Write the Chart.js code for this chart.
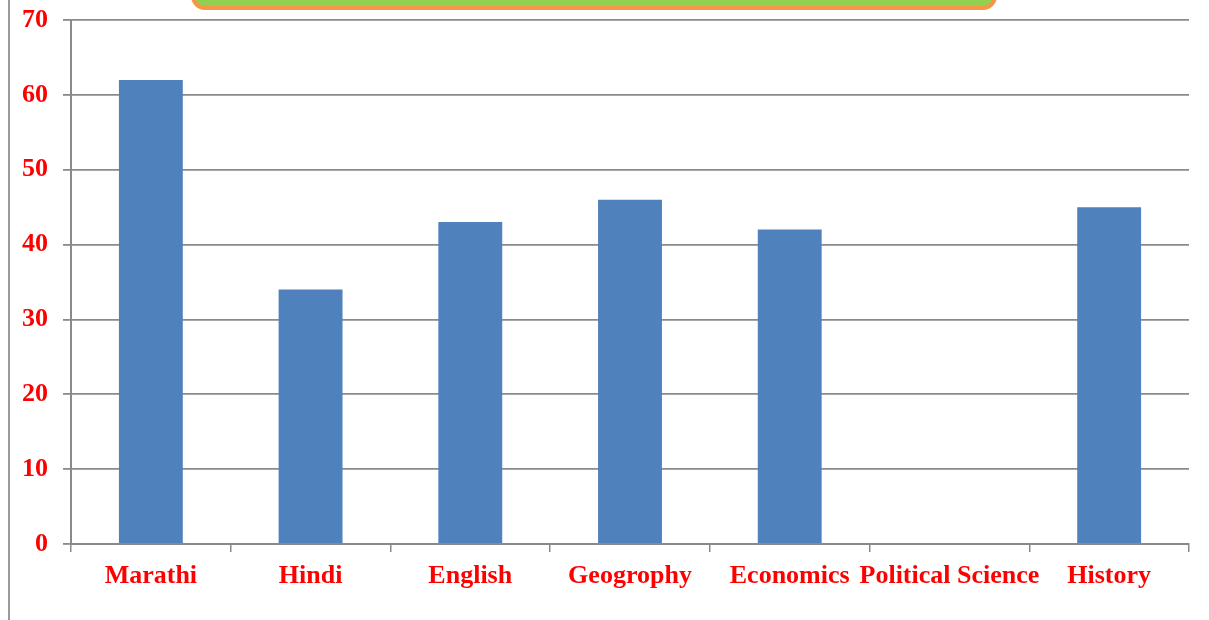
<!DOCTYPE html>
<html>
<head>
<meta charset="utf-8">
<script src="https://cdn.jsdelivr.net/npm/chart.js@4"></script>
<style>
  html, body { margin: 0; padding: 0; background: #fff; }
  #wrap { position: relative; width: 1209px; height: 620px; overflow: hidden; }
  #leftLine { position: absolute; left: 8px; top: 0; width: 2px; height: 620px; background: #9a9a9a; }
  #titleBox {
    position: absolute; left: 191px; top: -38px; width: 798px; height: 40px;
    background: #92D050; border: 4px solid #F79646; border-radius: 14px;
  }
  canvas { position: absolute; left: 0; top: 0; }
</style>
</head>
<body>
<div id="wrap">
  <div id="leftLine"></div>
  <div id="titleBox"></div>
  <canvas id="marksChart" width="1209" height="620"></canvas>
</div>
<script>
// subjects and marks
const subjects = ["Marathi", "Hindi", "English", "Geogrophy", "Economics", "Political Science", "History"];
const marks = [62, 34, 43, 46, 42, 0, 45];
const yMin = 0;
const yMax = 70;
const yStep = 10;

const labelFont = { family: "'Liberation Serif', 'Times New Roman', serif", size: 26, weight: "bold" };
const gridColor = "#8a8a8a";

const ctx = document.getElementById("marksChart").getContext("2d");
const marksChart = new Chart(ctx, {
  type: "bar",
  data: {
    labels: subjects,
    datasets: [{
      label: "Marks",
      data: marks,
      backgroundColor: "#4F81BD",
      borderWidth: 0,
      barPercentage: 1,
      categoryPercentage: 0.4
    }]
  },
  options: {
    responsive: false,
    animation: false,
    layout: { padding: { top: 0, right: 20, bottom: 0, left: 0 } },
    plugins: {
      legend: { display: false },
      tooltip: { enabled: false }
    },
    scales: {
      x: {
        grid: {
          offset: true,
          drawOnChartArea: false,
          drawTicks: true,
          tickLength: 8,
          color: gridColor,
          lineWidth: 1.5
        },
        border: { color: gridColor, width: 2 },
        ticks: {
          color: "#ff0000",
          font: labelFont,
          padding: 9,
          autoSkip: false,
          maxRotation: 0,
          minRotation: 0
        },
        afterFit: (scale) => { scale.height = 76; }
      },
      y: {
        min: yMin,
        max: yMax,
        grid: {
          color: gridColor,
          lineWidth: 1.8,
          tickLength: 8
        },
        border: { color: gridColor, width: 2 },
        ticks: {
          stepSize: yStep,
          color: "#ff0000",
          font: labelFont,
          padding: 15
        },
        afterFit: (scale) => {
          scale.width = 71;
          scale.paddingTop = 20; // plot top sits at y=20 in the reference
        }
      }
    }
  }
});
</script>
</body>
</html>
